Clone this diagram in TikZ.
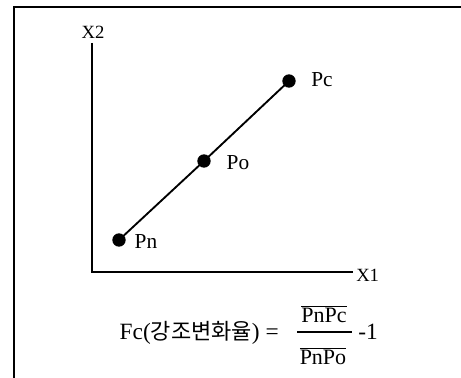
\documentclass[tikz,border=0pt]{standalone}
\usepackage{fontspec}
\setmainfont{Liberation Serif}
\newfontfamily\krfont{Noto Sans CJK KR}
\tikzset{
  dot/.style={circle,fill=black,inner sep=0pt,minimum size=10pt},
  lbl/.style={inner sep=0pt,font=\fontsize{16}{19}\selectfont},
  axlbl/.style={inner sep=0pt,font=\fontsize{14}{16}\selectfont},
  frm/.style={inner sep=0pt,font=\fontsize{17.5}{20}\selectfont},
  frac/.style={inner sep=0pt,font=\fontsize{16.5}{20}\selectfont},
}
\begin{document}
\begin{tikzpicture}[x=0.75pt,y=-0.75pt]
\useasboundingbox (0,0) rectangle (461,378);
% frame
\draw[line width=1.1pt] (461,7) -- (14,7) -- (14,378);
% axes
\coordinate (ytop) at (92,43);
\coordinate (xend) at (353,272);
\draw[line width=1.1pt] (ytop) |- (xend);
\node[axlbl] (x2) at (93,32) {X2};
\node[axlbl,anchor=west] (x1) at (356,275) {X1};
% points
\node[dot] (pn) at (119,240) {};
\node[dot] (po) at (204,161) {};
\node[dot] (pc) at (289,81) {};
\draw[line width=1.4pt] (pn.center) -- (po.center) -- (pc.center);
\node[lbl] (lpn) at (146,242) {Pn};
\node[lbl] (lpo) at (238,163) {Po};
\node[lbl] (lpc) at (322,80) {Pc};
% formula
\node[frm,anchor=east] (lhs) at (279,333) {Fc({\krfont\fontsize{16.5}{20}\selectfont 강조변화율}) =};
\node[frac] (num) at (324,314) {$\overline{\mbox{PnPc}}$};
\node[frac] (den) at (323,356) {$\overline{\mbox{PnPo}}$};
\coordinate (barl) at (297,332);
\coordinate (barr) at (352,332);
\draw[line width=1.1pt] (barl) -- (barr);
\node[frm,anchor=west] (m1) at (358,332) {-1};
\end{tikzpicture}
\end{document}
